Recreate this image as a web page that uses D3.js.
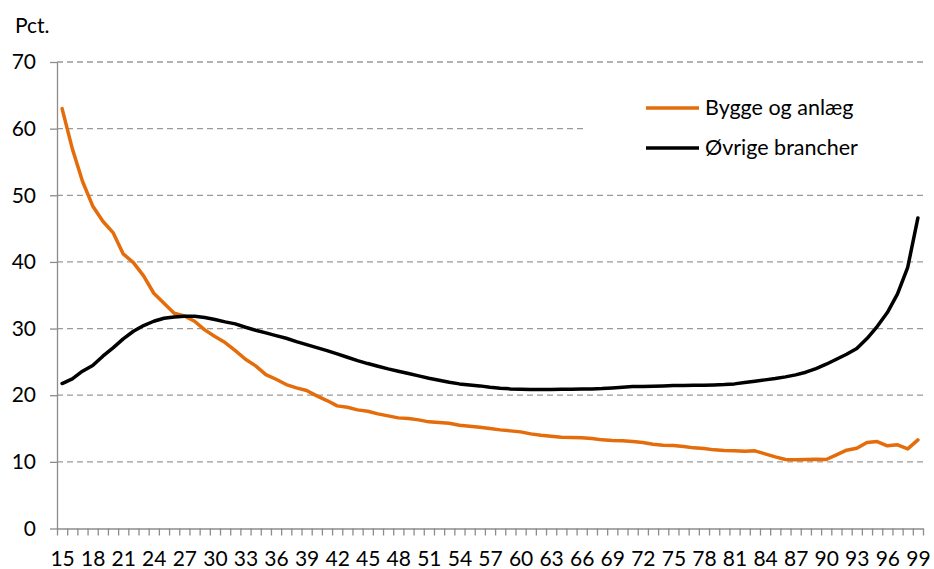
<!DOCTYPE html>
<html>
<head>
<meta charset="utf-8">
<script src="https://cdn.jsdelivr.net/npm/d3@7"></script>
<style>
  body { margin: 0; background: #fff; }
  svg { display: block; font-family: Lato, "Open Sans", sans-serif; }
</style>
</head>
<body>
<svg id="chart" width="934" height="569"></svg>
<script>
// categories: age 15..99
const ages = d3.range(15, 100);
const xLabels = [15,18,21,24,27,30,33,36,39,42,45,48,51,54,57,60,63,66,69,72,75,78,81,84,87,90,93,96,99];
const yTicks = [0, 10, 20, 30, 40, 50, 60, 70];

const byggeOgAnlaeg = [
  63.0, 57.0, 52.1, 48.4, 46.1, 44.4, 41.2, 39.9, 37.9, 35.3,
  33.8, 32.3, 31.9, 31.1, 29.8, 28.8, 27.9, 26.7, 25.4, 24.4,
  23.1, 22.4, 21.6, 21.1, 20.7, 19.9, 19.2, 18.4, 18.2, 17.8,
  17.6, 17.2, 16.9, 16.6, 16.5, 16.3, 16.0, 15.9, 15.8, 15.5,
  15.35, 15.2, 15.0, 14.8, 14.65, 14.5, 14.2, 14.0, 13.85, 13.7,
  13.65, 13.6, 13.5, 13.3, 13.2, 13.15, 13.05, 12.9, 12.65, 12.5,
  12.45, 12.3, 12.1, 12.0, 11.8, 11.7, 11.65, 11.6, 11.65, 11.2,
  10.75, 10.35, 10.3, 10.35, 10.4, 10.35, 11.05, 11.75, 12.05, 12.9,
  13.05, 12.4, 12.55, 11.95, 13.3
];

const oevrigeBrancher = [
  21.75, 22.45, 23.6, 24.45, 25.85, 27.1, 28.45, 29.6, 30.45, 31.1,
  31.55, 31.75, 31.85, 31.85, 31.65, 31.35, 31.0, 30.7, 30.2, 29.75,
  29.35, 28.95, 28.55, 28.05, 27.6, 27.15, 26.7, 26.2, 25.7, 25.2,
  24.75, 24.35, 23.95, 23.6, 23.25, 22.9, 22.55, 22.25, 21.95, 21.7,
  21.55, 21.4, 21.2, 21.05, 20.95, 20.9, 20.85, 20.85, 20.85, 20.9,
  20.9, 20.95, 20.95, 21.0, 21.1, 21.2, 21.3, 21.3, 21.35, 21.4,
  21.45, 21.45, 21.5, 21.5, 21.55, 21.6, 21.7, 21.9, 22.1, 22.3,
  22.5, 22.75, 23.05, 23.45, 24.0, 24.65, 25.4, 26.15, 27.0, 28.5,
  30.3, 32.4, 35.2, 39.2, 46.6
];

const seriesNames = ["Bygge og anlæg", "Øvrige brancher"];
const seriesColors = ["#E46C0A", "#000000"];

const svg = d3.select("#chart");
const plotLeft = 57, plotRight = 923, plotTop = 62, plotBottom = 528.5;
const fontSize = "21px";

const x = d3.scaleLinear().domain([14.5, 99.5]).range([plotLeft, plotRight]);
const y = d3.scaleLinear().domain([0, 70]).range([plotBottom, plotTop]);

// gridlines
svg.append("g")
  .selectAll("line")
  .data(yTicks.filter(d => d > 0))
  .join("line")
  .attr("x1", plotLeft).attr("x2", plotRight)
  .attr("y1", d => y(d)).attr("y2", d => y(d))
  .attr("stroke", "#9a9a9a")
  .attr("stroke-width", 1.3)
  .attr("stroke-dasharray", "6,4");

// y axis
const yAxis = svg.append("g")
  .attr("transform", `translate(${plotLeft},0)`)
  .call(d3.axisLeft(y).tickValues(yTicks).tickSize(7).tickSizeOuter(0).tickPadding(14));
yAxis.select(".domain").attr("stroke", "#8c8c8c").attr("stroke-width", 1.3);
yAxis.selectAll(".tick line").attr("stroke", "#8c8c8c").attr("stroke-width", 1.3);
yAxis.selectAll("text").attr("font-size", fontSize).attr("font-family", "Lato, 'Open Sans', sans-serif").attr("fill", "#000");

// x axis tick marks at category boundaries
const xMarks = svg.append("g")
  .attr("transform", `translate(0,${plotBottom})`)
  .call(d3.axisBottom(x).tickValues(ages.map(a => a - 0.5).concat([99.5])).tickFormat("").tickSize(7).tickSizeOuter(0));
xMarks.select(".domain").attr("stroke", "#8c8c8c").attr("stroke-width", 1.3);
xMarks.selectAll(".tick line").attr("stroke", "#8c8c8c").attr("stroke-width", 1.3);

// x labels
const xAxis = svg.append("g")
  .attr("transform", `translate(0,${plotBottom})`)
  .call(d3.axisBottom(x).tickValues(xLabels).tickSize(0).tickPadding(23));
xAxis.select(".domain").remove();
xAxis.selectAll("text").attr("font-size", fontSize).attr("font-family", "Lato, 'Open Sans', sans-serif").attr("fill", "#000");

// unit label
svg.append("text")
  .attr("x", 15).attr("y", 33)
  .attr("font-size", fontSize)
  .text("Pct.");

// lines
const line = d3.line()
  .x((d, i) => x(ages[i]))
  .y(d => y(d));

[byggeOgAnlaeg, oevrigeBrancher].forEach((vals, i) => {
  svg.append("path")
    .datum(vals)
    .attr("fill", "none")
    .attr("stroke", seriesColors[i])
    .attr("stroke-width", 3.5)
    .attr("stroke-linejoin", "round")
    .attr("stroke-linecap", "round")
    .attr("d", line);
});

// legend (white box hides gridline behind)
const legend = svg.append("g");
legend.append("rect")
  .attr("x", 585).attr("y", 80)
  .attr("width", plotRight - 585).attr("height", 100)
  .attr("fill", "#fff");

seriesNames.forEach((name, i) => {
  const ly = 108 + i * 40;
  legend.append("line")
    .attr("x1", 646).attr("x2", 699)
    .attr("y1", ly).attr("y2", ly)
    .attr("stroke", seriesColors[i])
    .attr("stroke-width", 3.5);
  legend.append("text")
    .attr("x", 705).attr("y", ly + 7)
    .attr("font-size", "21.5px")
    .text(name);
});
</script>
</body>
</html>
